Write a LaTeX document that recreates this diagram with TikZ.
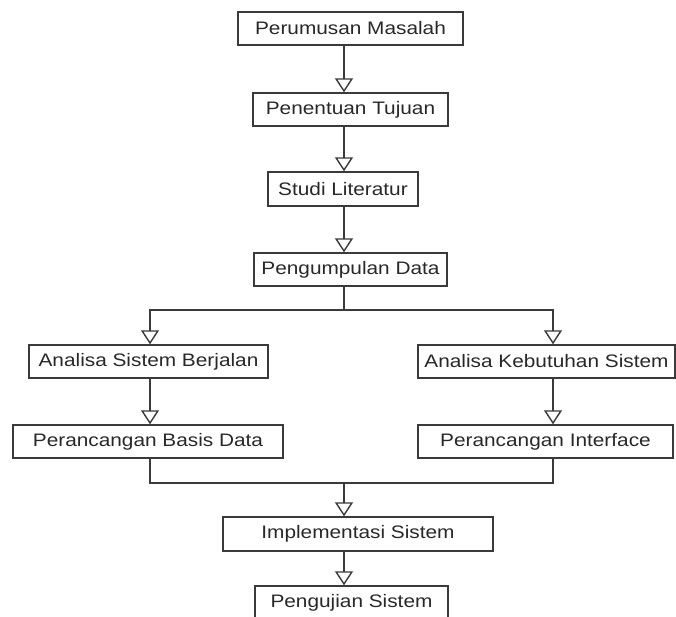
\documentclass[tikz,border=0pt]{standalone}
\usepackage{fontspec}
\newfontfamily\boxfont[FakeStretch=1.15]{Liberation Sans}
\usetikzlibrary{arrows.meta}

\begin{document}
\begin{tikzpicture}[x=0.02cm, y=-0.02cm,
	every node/.style={font=\fontsize{10.3}{12}\boxfont},
	stage/.style={draw=lineclr, line width=0.8pt, text=textclr, minimum height=0.66cm, inner sep=0pt},
	flow/.style={draw=lineclr, line width=0.8pt, -{Triangle[open, width=0.36cm, length=0.28cm]}},
	link/.style={draw=lineclr, line width=0.8pt}]
		% Define colors
		\definecolor{lineclr}{RGB}{58, 58, 58}
		\definecolor{textclr}{RGB}{40, 40, 40}
		
		% Frame of the picture
		\useasboundingbox (0, 0) rectangle (676, 617);
		\clip (0, 0) rectangle (676, 617);
		
		% Columns of the connectors
		\coordinate (spine) at (344, 0);
		\coordinate (lx) at (150, 0);
		\coordinate (rx) at (553, 0);
		
		% MAIN COLUMN
		\node[stage, minimum width=4.5cm] (masalah) at (350.5, 28.5) {Perumusan Masalah};
		\node[stage, minimum width=3.9cm] (tujuan) at (350.5, 109.5) {Penentuan Tujuan};
		\node[stage, minimum width=3.0cm, minimum height=0.68cm] (literatur) at (343, 189) {Studi Literatur};
		\node[stage, minimum width=3.86cm] (data) at (350.5, 269.5) {Pengumpulan Data};
		
		% LEFT BRANCH
		\node[stage, minimum width=4.78cm] (berjalan) at (148.5, 361.5) {Analisa Sistem Berjalan};
		\node[stage, minimum width=5.4cm] (basis) at (148, 441.5) {Perancangan Basis Data};
		
		% RIGHT BRANCH
		\node[stage, minimum width=5.14cm] (kebutuhan) at (546.5, 361.5) {Analisa Kebutuhan Sistem};
		\node[stage, minimum width=5.1cm] (interface) at (545.5, 441.5) {Perancangan Interface};
		
		% BOTTOM
		\node[stage, minimum width=5.4cm, minimum height=0.68cm] (implementasi) at (358, 534) {Implementasi Sistem};
		\node[stage, minimum width=3.86cm, minimum height=0.68cm] (pengujian) at (351.5, 603) {Pengujian Sistem};
		
		% Arrows down the main column
		\draw[flow] (masalah.south -| spine) -- (tujuan.north -| spine);
		\draw[flow] (tujuan.south -| spine) -- (literatur.north -| spine);
		\draw[flow] (literatur.south -| spine) -- (data.north -| spine);
		
		% Split into the two branches
		\coordinate (split) at (344, 310);
		\draw[link] (data.south -| spine) -- (split);
		\draw[flow] (split) -| (berjalan.north -| lx);
		\draw[flow] (split) -| (kebutuhan.north -| rx);
		\draw[flow] (berjalan.south -| lx) -- (basis.north -| lx);
		\draw[flow] (kebutuhan.south -| rx) -- (interface.north -| rx);
		
		% Join of the two branches
		\coordinate (merge) at (344, 483);
		\draw[link] (basis.south -| lx) |- (merge);
		\draw[link] (interface.south -| rx) |- (merge);
		\draw[flow] (merge) -- (implementasi.north -| spine);
		\draw[flow] (implementasi.south -| spine) -- (pengujian.north -| spine);
		
	\end{tikzpicture}
\end{document}
